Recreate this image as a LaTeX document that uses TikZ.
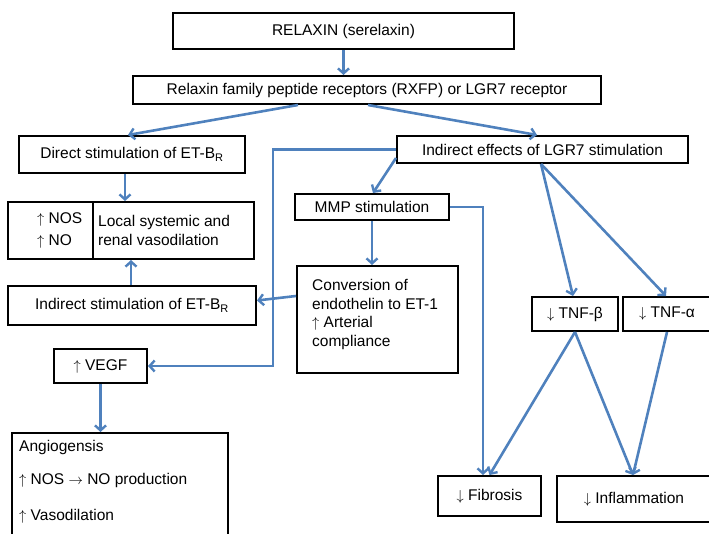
\documentclass[tikz,border=0pt]{standalone}
\usepackage{fontspec}
\setmainfont{Liberation Sans}
\usetikzlibrary{arrows.meta}
\definecolor{lblue}{HTML}{4F81BD}
\newcommand\diafont{\fontsize{15.5}{18.5}\selectfont}
\newcommand\subR{\textsubscript{\fontsize{11}{11}\selectfont R}}
\begin{document}
\begin{tikzpicture}[x=1pt,y=-1pt,
 box/.style={draw=black,line width=2pt,inner sep=0pt,align=center,font=\diafont},
 txt/.style={inner sep=0pt,align=left,font=\diafont},
 arr/.style={draw=lblue,line width=2.6pt,-{Straight Barb[length=5pt,width=11pt,line width=2.4pt]}},
 ln/.style={draw=lblue,line width=2.6pt}]
\useasboundingbox (0,0) rectangle (709,533);
% boxes
\node[box,minimum width=341pt,minimum height=36pt] (relaxin) at (343.5,31) {RELAXIN (serelaxin)};
\node[box,minimum width=468pt,minimum height=28pt] (rxfp) at (367,90) {Relaxin family peptide receptors (RXFP) or LGR7 receptor};
\node[box,minimum width=226pt,minimum height=37pt] (direct) at (132,154.5) {Direct stimulation of ET-B\subR};
\node[box,minimum width=291pt,minimum height=27pt] (lgr7) at (542.5,149.5) {Indirect effects of LGR7 stimulation};
\node[box,minimum width=85pt,minimum height=57pt] (localL) at (50.5,230.5) {};
\node[box,minimum width=161pt,minimum height=57pt] (localR) at (173.5,230.5) {};
\node[txt,anchor=west] (localLtxt) at ([xshift=30pt]localL.west) {$\uparrow$ NOS\\[3pt]$\uparrow$ NO};
\node[txt,anchor=west] (localRtxt) at ([xshift=6pt]localR.west) {Local systemic and\\renal vasodilation};
\node[box,minimum width=248pt,minimum height=39pt] (indirect) at (132,305.5) {Indirect stimulation of ET-B\subR};
\node[box,minimum width=154pt,minimum height=26pt] (mmp) at (372,207) {MMP stimulation};
\node[box,minimum width=161pt,minimum height=107pt] (conv) at (377.5,319.5) {};
\node[txt,anchor=west] (convtxt) at ([xshift=16pt,yshift=5pt]conv.west) {Conversion of\\endothelin to ET-1\\$\uparrow$ Arterial\\compliance};
\node[box,minimum width=93pt,minimum height=34pt] (vegf) at (100.5,366) {$\uparrow$ VEGF};
\node[box,minimum width=216pt,minimum height=112pt] (angio) at (120,489) {};
\node[txt,anchor=west] (angio1) at ([shift={(8,15)}]angio.north west) {Angiogensis};
\node[txt,anchor=west] (angio2) at ([shift={(8,48)}]angio.north west) {$\uparrow$ NOS $\rightarrow$ NO production};
\node[txt,anchor=west] (angio3) at ([shift={(8,84)}]angio.north west) {$\uparrow$ Vasodilation};
\node[box,minimum width=86pt,minimum height=34pt] (tnfb) at (575,314) {$\downarrow$ TNF-β};
\node[box,minimum width=88pt,minimum height=34pt] (tnfa) at (667,314) {$\downarrow$ TNF-α};
\node[box,minimum width=103pt,minimum height=40pt] (fibrosis) at (489.5,496) {$\downarrow$ Fibrosis};
\node[box,minimum width=154pt,minimum height=46pt] (inflam) at (634,499) {$\downarrow$ Inflammation};
% connectors
\coordinate (c1) at (273,149.5);
\draw[arr] (relaxin.south) -- (relaxin.south |- rxfp.north);
\draw[arr] ([xshift=-69pt]rxfp.south) -- ([xshift=-4pt]direct.north);
\draw[arr] ([xshift=1pt]rxfp.south) -- ([xshift=-5.5pt]lgr7.north);
\draw[arr] ([xshift=-7pt]direct.south) -- ([xshift=-7pt]direct.south |- localR.north);
\draw[arr] ([xshift=-1pt]indirect.north) -- ([xshift=-1pt]indirect.north |- localR.south);
\draw[arr] (lgr7.west) -- (c1) |- (vegf.east);
\draw[arr] ([yshift=6pt]lgr7.south west) -- ([xshift=1pt]mmp.north);
\draw[arr] (mmp.south) -- (mmp.south |- conv.north);
\draw[arr] (mmp.east) -| ([xshift=-6.5pt]fibrosis.north);
\draw[arr] ([yshift=23.5pt]conv.west) -- ([yshift=5pt]indirect.east);
\draw[arr] (vegf.south) -- (vegf.south |- angio.north);
\draw[arr] ([xshift=-1.5pt]lgr7.south) -- ([xshift=-2pt]tnfb.north);
\draw[arr] ([xshift=-1.5pt]lgr7.south) -- ([xshift=-1pt]tnfa.north);
\draw[arr] (tnfb.south) -- (fibrosis.north);
\draw[arr] (tnfb.south) -- ([xshift=-1pt]inflam.north);
\draw[arr] (tnfa.south) -- ([xshift=-1pt]inflam.north);
\end{tikzpicture}
\end{document}
